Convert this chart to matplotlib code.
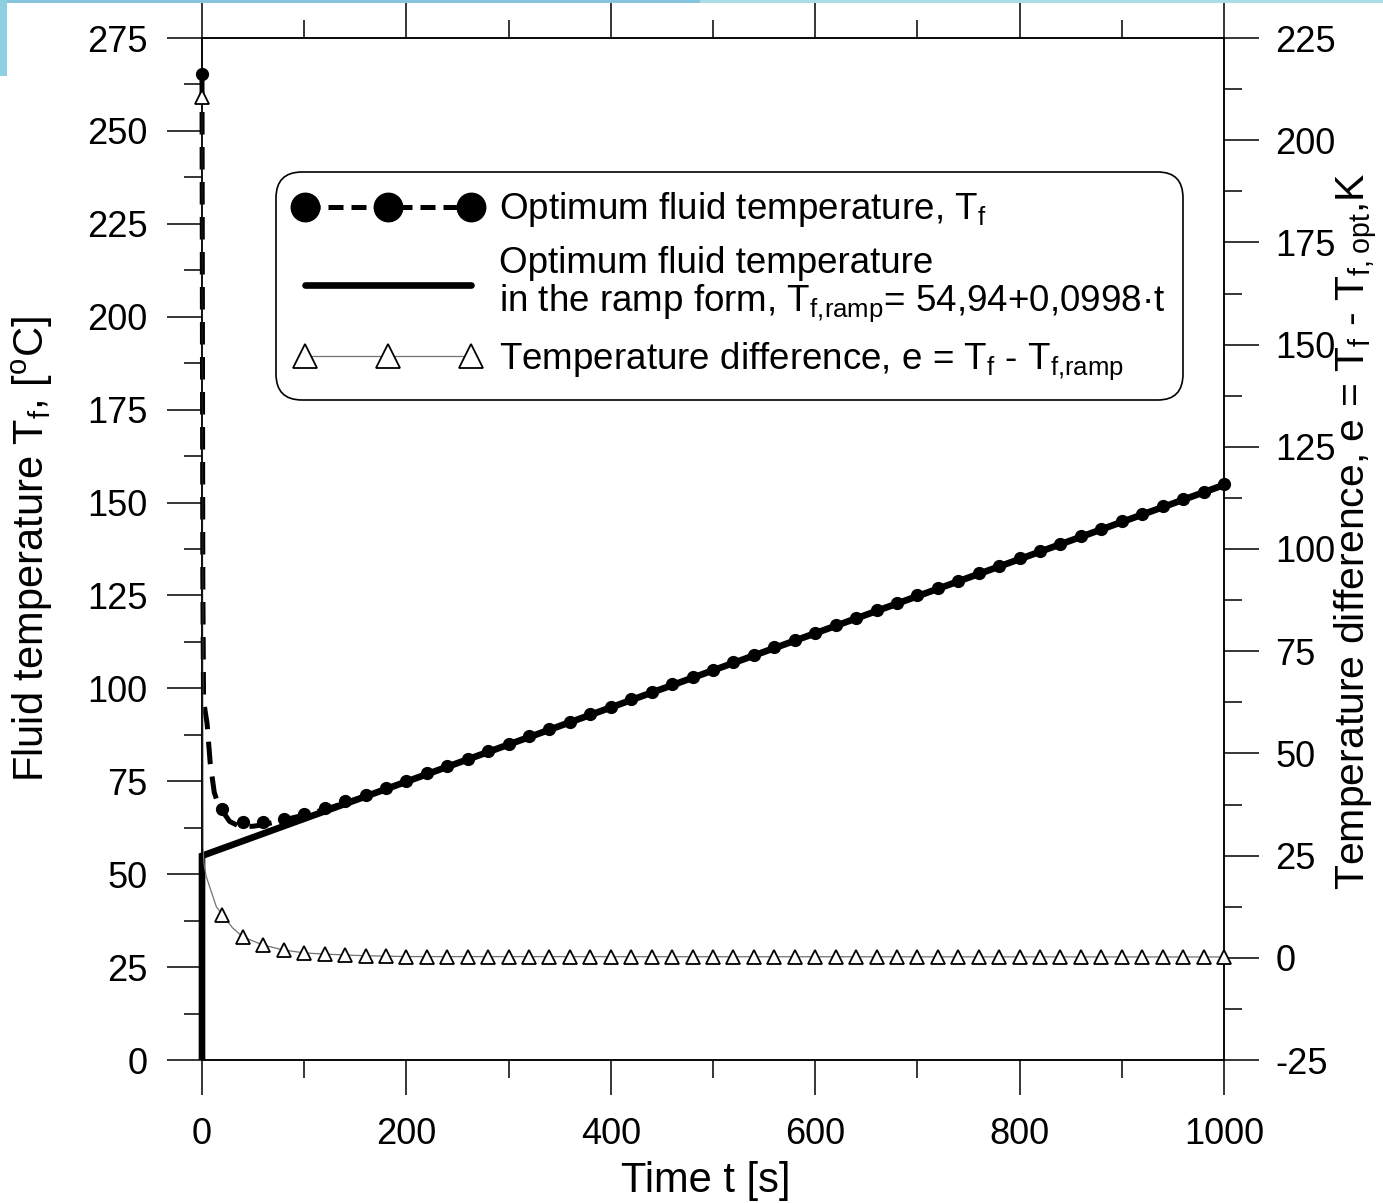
import numpy as np
import matplotlib
matplotlib.use('Agg')
import matplotlib.pyplot as plt
from matplotlib.lines import Line2D
from matplotlib.patches import Rectangle
from matplotlib.ticker import MultipleLocator

plt.rcParams['font.family'] = ['Liberation Sans', 'DejaVu Sans']
plt.rcParams['mathtext.default'] = 'regular'
plt.rcParams['axes.unicode_minus'] = False

# ramp fit  T = a + b*t
ramp_a = 54.94
ramp_b = 0.0998
ramp_t = [0, 0, 1000]
ramp_T = [0, ramp_a, ramp_a + ramp_b * 1000]

# optimum fluid temperature, continuous curve
Tf_curve_t = [0, 0.4, 0.8, 1.5, 3, 5, 8, 10, 12, 15, 20, 27, 35, 42, 50, 60,
              80, 100, 120, 140, 160, 200, 1000]
Tf_curve = [264.5, 200, 130, 97, 94, 90.5, 80, 76, 72, 69.5, 67, 64.2, 63.1,
            62.8, 62.9, 63.3, 64.6, 65.9, 67.4, 69.2, 71.0, 74.9, 154.8]

# temperature difference e = Tf - Tf,ramp, continuous curve
e_curve_t = [0, 0.5, 1, 2, 4, 8, 14, 20, 30, 40, 60, 80, 100, 120, 140, 160,
             200, 1000]
e_curve = [210.5, 100, 27, 23, 20, 17, 12.5, 10.5, 7.3, 5.1, 3.1, 1.9, 1.2,
           0.9, 0.7, 0.5, 0.3, 0.2]

# sampled points every 20 s
t_mark = np.arange(0, 1001, 20)
e_mark = np.array([210.5, 10.5, 5.1, 3.1, 1.9, 1.2, 0.9, 0.7, 0.5, 0.4, 0.3,
                   0.2, 0.2, 0.2, 0.2, 0.2, 0.2, 0.2, 0.2, 0.2, 0.2, 0.2, 0.2,
                   0.2, 0.2, 0.2, 0.2, 0.2, 0.2, 0.2, 0.2, 0.2, 0.2, 0.2, 0.2,
                   0.2, 0.2, 0.2, 0.2, 0.2, 0.2, 0.2, 0.2, 0.2, 0.2, 0.2, 0.2,
                   0.2, 0.2, 0.2, 0.2])
Tf_mark = ramp_a + ramp_b * t_mark + e_mark

fig = plt.figure(figsize=(13.83, 12.03), dpi=100)
ax = fig.add_axes([202/1383, 1-1060/1203, 1022/1383, 1022/1203])
ax2 = ax.twinx()

# slide decoration strips
fig.add_artist(Rectangle((0, 1-3/1203), 700/1383, 3/1203, transform=fig.transFigure,
                         color='#86c4db', lw=0, zorder=0))
fig.add_artist(Rectangle((700/1383, 1-3/1203), 683/1383, 3/1203, transform=fig.transFigure,
                         color='#aadde6', lw=0, zorder=0))
fig.add_artist(Rectangle((0, 1-76/1203), 7/1383, 76/1203, transform=fig.transFigure,
                         color='#8fd0e0', lw=0, zorder=0))

ax.plot(ramp_t, ramp_T, color='k', lw=4.8, solid_joinstyle='miter',
        solid_capstyle='butt', clip_on=False, zorder=3)
ax.plot(Tf_curve_t, Tf_curve, color='k', lw=3.6, ls=(0, (4.5, 2.5)),
        clip_on=False, zorder=4)
ax.plot(t_mark, Tf_mark, 'o', color='k', ms=8.5, clip_on=False, zorder=5)

ax2.plot(e_curve_t, e_curve, color='0.45', lw=0.9, clip_on=False, zorder=2)
ax2.plot(t_mark, e_mark, '^', ms=10, mfc='white', mec='k', mew=1.3,
         clip_on=False, zorder=3)

ax.set_xlim(0, 1000)
ax.set_ylim(0, 275)
ax2.set_ylim(-25, 225)

ax.xaxis.set_major_locator(MultipleLocator(200))
ax.xaxis.set_minor_locator(MultipleLocator(100))
ax.yaxis.set_major_locator(MultipleLocator(25))
ax.yaxis.set_minor_locator(MultipleLocator(12.5))
ax2.yaxis.set_major_locator(MultipleLocator(25))
ax2.yaxis.set_minor_locator(MultipleLocator(12.5))

ax.tick_params(which='major', direction='out', length=25, width=1.1,
               labelsize=26, color='k')
ax.tick_params(which='minor', direction='out', length=13, width=1.1, color='k')
ax.tick_params(axis='x', which='both', top=True, labeltop=False)
ax.tick_params(axis='x', pad=16)
ax.tick_params(axis='y', which='both', right=False, labelright=False)
ax.tick_params(axis='y', pad=14)
ax2.tick_params(axis='y', which='major', direction='out', length=25, width=1.1,
                labelsize=26, pad=12, color='k')
ax2.tick_params(axis='y', which='minor', direction='out', length=13, width=1.1)

for a in (ax, ax2):
    for s in a.spines.values():
        s.set_linewidth(1.1)
        s.set_color('k')

ax.set_xlabel('Time t [s]', fontsize=30)
ax.xaxis.set_label_coords(0.493, -0.099)
ax.set_ylabel('Fluid temperature T$_{f}$, [$^{o}$C]', fontsize=30)
ax.yaxis.set_label_coords(-0.144, 0.5)
ax2.set_ylabel('Temperature difference, e = T$_{f}$ - T$_{f, opt}$,K', fontsize=29.5)
ax2.yaxis.set_label_coords(1.107, 0.5176)

# legend
h1 = Line2D([], [], color='k', lw=3.6, ls=(0, (3, 1.6)), marker='o', ms=20.5)
h2 = Line2D([], [], color='k', lw=4.8, solid_capstyle='round')
h3 = Line2D([], [], color='0.45', lw=0.9, marker='^', ms=17, mfc='white',
            mec='k', mew=1.3)
labels = ['Optimum fluid temperature, T$_{f}$',
          'Optimum fluid temperature\nin the ramp form, T$_{f{,}ramp}$= 54,94+0,0998\u00b7t',
          'Temperature difference, e = T$_{f}$ - T$_{f{,}ramp}$']
leg = ax2.legend([h1, h2, h3], labels, loc='upper left',
                 bbox_to_anchor=(276/1383, 1-172/1203), bbox_transform=fig.transFigure,
                 fontsize=26.5, frameon=True, fancybox=True, framealpha=1,
                 edgecolor='k', handlelength=5.1, handletextpad=0.45,
                 borderpad=0.5, labelspacing=0.45, numpoints=3, borderaxespad=0)
leg.get_frame().set_linewidth(1.2)
leg.get_frame().set_boxstyle('round,pad=0,rounding_size=0.7')
for t in leg.get_texts():
    t.set_linespacing(1.05)

fig.savefig('out.png', dpi=100)
